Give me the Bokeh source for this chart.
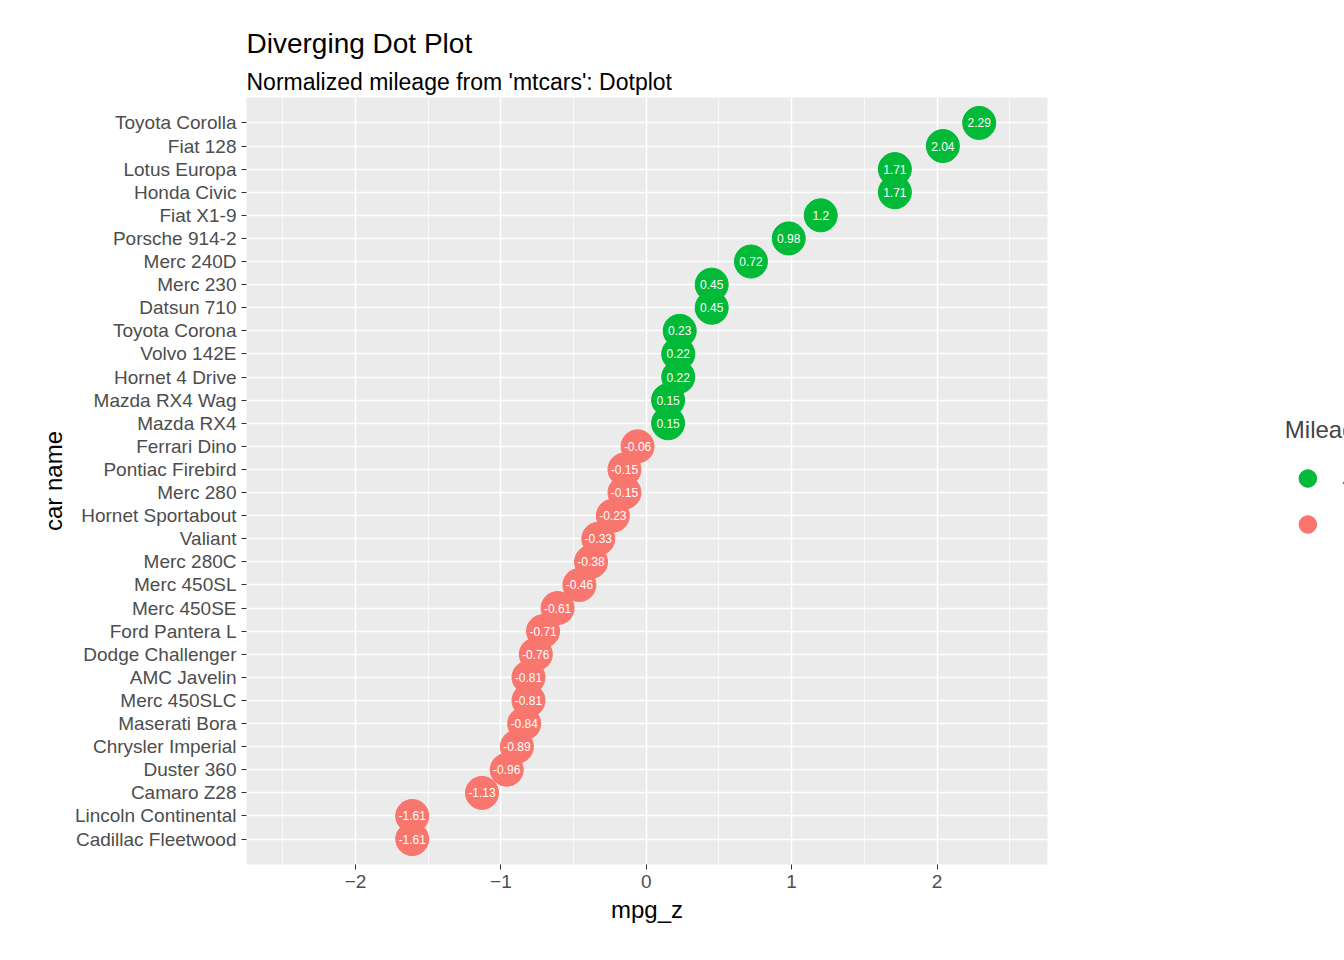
from bokeh.plotting import figure
from bokeh.models import ColumnDataSource, Title, Legend, LegendItem, FactorRange, Range1d
from bokeh.core.properties import value
from bokeh.embed import file_html
from bokeh.resources import INLINE

cars = ["Cadillac Fleetwood", "Lincoln Continental", "Camaro Z28", "Duster 360",
        "Chrysler Imperial", "Maserati Bora", "Merc 450SLC", "AMC Javelin",
        "Dodge Challenger", "Ford Pantera L", "Merc 450SE", "Merc 450SL",
        "Merc 280C", "Valiant", "Hornet Sportabout", "Merc 280", "Pontiac Firebird",
        "Ferrari Dino", "Mazda RX4", "Mazda RX4 Wag", "Hornet 4 Drive", "Volvo 142E",
        "Toyota Corona", "Datsun 710", "Merc 230", "Merc 240D", "Porsche 914-2",
        "Fiat X1-9", "Honda Civic", "Lotus Europa", "Fiat 128", "Toyota Corolla"]
mpg_z = [-1.61, -1.61, -1.13, -0.96, -0.89, -0.84, -0.81, -0.81, -0.76, -0.71,
         -0.61, -0.46, -0.38, -0.33, -0.23, -0.15, -0.15, -0.06, 0.15, 0.15,
         0.22, 0.22, 0.23, 0.45, 0.45, 0.72, 0.98, 1.2, 1.71, 1.71, 2.04, 2.29]

GREEN, RED = "#00BA38", "#F8766D"
FONT = "Liberation Sans"

kind = ["Above Average" if v > 0 else "Below Average" for v in mpg_z]
colors = [GREEN if v > 0 else RED for v in mpg_z]
labels = [("%g" % v) for v in mpg_z]
src = ColumnDataSource(dict(car=cars, z=mpg_z, color=colors, lab=labels, kind=kind))

p = figure(frame_width=801, frame_height=767, output_backend="svg", toolbar_location=None,
           y_range=FactorRange(*cars, range_padding=0.6, range_padding_units="absolute"),
           x_range=Range1d(-2.75, 2.76),
           min_border_left=246, min_border_right=281, min_border_top=97, min_border_bottom=80)
p.background_fill_color = "#EBEBEB"
p.outline_line_color = None
p.border_fill_color = "white"

p.add_layout(Title(text="Normalized mileage from 'mtcars': Dotplot", text_font_size="23px",
                   text_font=FONT, text_font_style="normal", text_color="black",
                   align="left", standoff=6), "above")
p.add_layout(Title(text="Diverging Dot Plot", text_font_size="28px",
                   text_font=FONT, text_font_style="normal", text_color="black",
                   align="left"), "above")

for g in (p.xgrid, p.ygrid):
    g.grid_line_color = "white"
    g.grid_line_width = 1.5
p.xgrid.minor_grid_line_color = "white"
p.xgrid.minor_grid_line_width = 0.7
p.xaxis.ticker.desired_num_ticks = 5
p.xaxis.ticker.num_minor_ticks = 2

for ax in (p.xaxis, p.yaxis):
    ax.axis_line_color = None
    ax.major_tick_line_color = "#333333"
    ax.major_tick_out = 5
    ax.major_tick_in = 0
    ax.minor_tick_line_color = None
    ax.major_label_text_font = FONT
    ax.major_label_text_font_size = "19px"
    ax.major_label_text_color = "#4D4D4D"
    ax.axis_label_text_font = FONT
    ax.axis_label_text_font_size = "24px"
    ax.axis_label_text_font_style = "normal"
    ax.axis_label_text_color = "black"
p.xaxis.axis_label = "mpg_z"
p.yaxis.axis_label = "car name"

r = p.scatter("z", "car", source=src, size=33, color="color")
p.text("z", "car", text="lab", source=src, text_color="white", text_font=value(FONT),
       text_font_size="12px", text_align="center", text_baseline="middle")

rg = p.scatter([0], [cars[-1]], size=34, color=GREEN, visible=False)
rr = p.scatter([0], [cars[0]], size=34, color=RED, visible=False)
leg = Legend(items=[LegendItem(label="Above Average", renderers=[rg]),
                    LegendItem(label="Below Average", renderers=[rr])],
             title="Mileage", title_text_font=FONT, title_text_font_size="24px",
             title_text_font_style="normal",
             label_text_font=FONT, label_text_font_size="20px",
             glyph_width=44, glyph_height=44, border_line_color=None,
             location="center", spacing=2, label_standoff=14)
leg.title_standoff = 12
p.add_layout(leg, "right")

open("out.html", "w").write(file_html(p, INLINE))
